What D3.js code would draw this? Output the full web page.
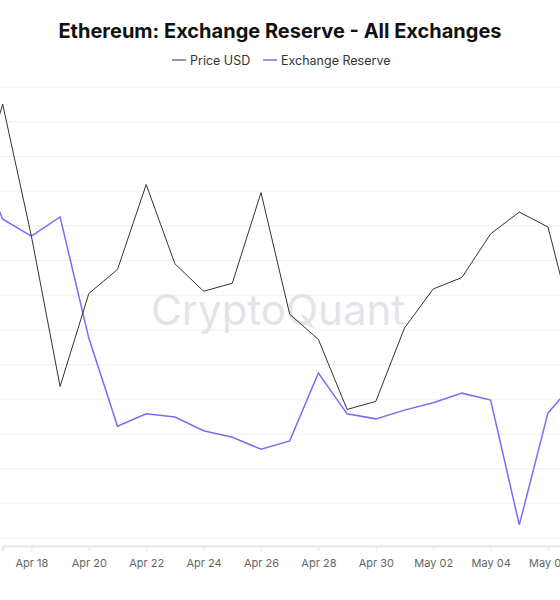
<!DOCTYPE html>
<html><head><meta charset="utf-8">
<script src="https://cdn.jsdelivr.net/npm/d3@7"></script>
<style>body{margin:0;background:#fff;font-family:Inter,"Noto Sans",sans-serif}</style>
</head><body><svg id="c" width="560" height="600"></svg>
<script>
const dates = ["2021-04-16","2021-04-17","2021-04-18","2021-04-19","2021-04-20","2021-04-21","2021-04-22","2021-04-23","2021-04-24","2021-04-25","2021-04-26","2021-04-27","2021-04-28","2021-04-29","2021-04-30","2021-05-01","2021-05-02","2021-05-03","2021-05-04","2021-05-05","2021-05-06","2021-05-07"];
const price = [1901,1985,1870,1739,1820,1841,1915,1846,1822,1829,1908,1802,1780,1719,1726,1790,1824,1834,1872,1891,1878,1780];
const reserve = [16.863,16.712,16.675,16.717,16.453,16.261,16.288,16.281,16.251,16.237,16.211,16.229,16.377,16.288,16.277,16.296,16.312,16.333,16.318,16.046,16.290,16.362];
const tickDates = ["2021-04-18","2021-04-20","2021-04-22","2021-04-24","2021-04-26","2021-04-28","2021-04-30","2021-05-02","2021-05-04","2021-05-06"];

const svg = d3.select("#c");
const W=560, plotTop=87, plotBottom=546;
const parse = d3.utcParse("%Y-%m-%d");
const ds = dates.map(parse);
const x = d3.scaleUtc().domain([parse("2021-04-17"), parse("2021-05-07")]).range([2.7, 2.7+28.7*20]);
const yP = d3.scaleLinear().domain([1600,2000]).range([plotBottom, plotTop]);
const yR = d3.scaleLinear().domain([16.0,17.0]).range([plotBottom, plotTop]);

const gy = d3.range(0,14).map(i=>plotTop+34.7*i);
svg.append("g").selectAll("line").data(gy).join("line")
  .attr("x1",0).attr("x2",W).attr("y1",d=>d).attr("y2",d=>d)
  .attr("stroke","#f0f0f3").attr("stroke-width",1);

svg.append("text").attr("x",278).attr("y",325).attr("text-anchor","middle")
  .attr("font-size",42).attr("font-family","Inter, sans-serif").attr("fill","#e4e3ea").text("CryptoQuant");

const ax = svg.append("g").attr("transform",`translate(0,${plotBottom})`)
  .call(d3.axisBottom(x).tickValues(tickDates.map(parse)).tickFormat(d3.utcFormat("%b %d")).tickSize(5).tickPadding(8));
ax.select(".domain").attr("stroke","#e6e6ea").attr("stroke-width",2);
ax.selectAll(".tick line").attr("stroke","#e6e6ea");
ax.selectAll("text").attr("fill","#666").attr("font-size",11).attr("font-family","Inter, sans-serif");

svg.append("clipPath").attr("id","cl").append("rect").attr("x",0).attr("y",0).attr("width",W).attr("height",plotBottom);
const g = svg.append("g").attr("clip-path","url(#cl)");
g.append("path").datum(reserve).attr("fill","none").attr("stroke","#7b6cf6").attr("stroke-width",1.5)
  .attr("d", d3.line().x((d,i)=>x(ds[i])).y(d=>yR(d)));
g.append("path").datum(price).attr("fill","none").attr("stroke","#333").attr("stroke-width",1)
  .attr("d", d3.line().x((d,i)=>x(ds[i])).y(d=>yP(d)));

svg.append("text").attr("x",280).attr("y",38).attr("text-anchor","middle").attr("font-size",20).attr("font-weight",700)
  .attr("fill","#111").text("Ethereum: Exchange Reserve - All Exchanges");
const lg = svg.append("g").attr("font-size",12.5).attr("fill","#333");
lg.append("line").attr("x1",172).attr("x2",186).attr("y1",60).attr("y2",60).attr("stroke","#333");
lg.append("text").attr("x",190).attr("y",65).text("Price USD");
lg.append("line").attr("x1",263).attr("x2",277).attr("y1",60).attr("y2",60).attr("stroke","#7b6cf6").attr("stroke-width",1.5);
lg.append("text").attr("x",281).attr("y",65).text("Exchange Reserve");
</script></body></html>
